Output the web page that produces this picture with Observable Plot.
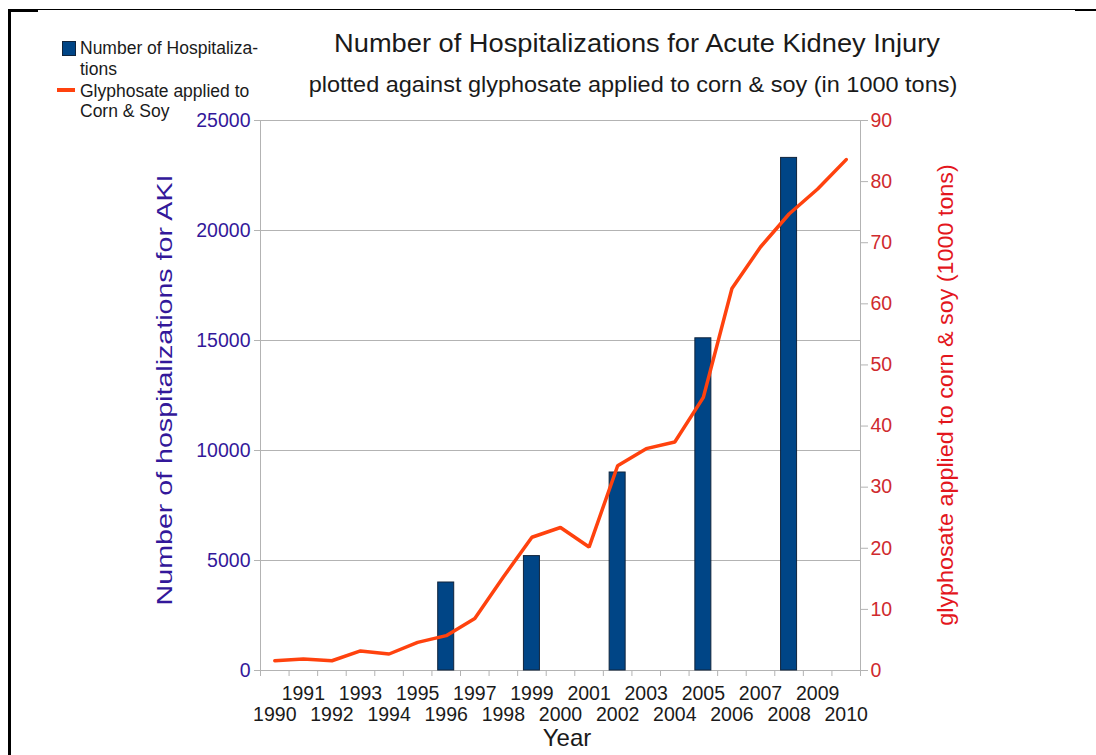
<!DOCTYPE html>
<html>
<head>
<meta charset="utf-8">
<script src="https://cdn.jsdelivr.net/npm/d3@7"></script>
<script src="https://cdn.jsdelivr.net/npm/@observablehq/plot@0.6"></script>
<style>
  html, body { margin: 0; padding: 0; background: #fff; }
  #wrap { position: relative; width: 1096px; height: 755px; overflow: hidden; font-family: "Liberation Sans", Arial, sans-serif; }
  #wrap svg { position: absolute; left: 0; top: 0; }
  .t { position: absolute; white-space: nowrap; color: #1a1a1a; line-height: 1.15; }
  .b { position: absolute; background: #000; }
</style>
</head>
<body>
<div id="wrap"></div>
<script>
// ---- data ----
const years = [1990, 1991, 1992, 1993, 1994, 1995, 1996, 1997, 1998, 1999, 2000,
               2001, 2002, 2003, 2004, 2005, 2006, 2007, 2008, 2009, 2010];
const glyphosate = [1.6, 1.9, 1.6, 3.2, 2.7, 4.6, 5.7, 8.5, 15.3, 21.8, 23.4,
                    20.2, 33.5, 36.3, 37.4, 44.7, 62.5, 69.3, 74.7, 78.8, 83.6];
const hospYears = [1996, 1999, 2002, 2005, 2008];
const hospitalizations = [4000, 5200, 9000, 15100, 23300];
const leftTicks = [0, 5000, 10000, 15000, 20000, 25000];
const rightTicks = [0, 10, 20, 30, 40, 50, 60, 70, 80, 90];

const titleText = "Number of Hospitalizations for Acute Kidney Injury";
const subtitleText = "plotted against glyphosate applied to corn & soy (in 1000 tons)";
const leftLabel = "Number of hospitalizations for AKI";
const rightLabel = "glyphosate applied to corn & soy (1000 tons)";
const xLabel = "Year";
const legendBars = ["Number of Hospitaliza-", "tions"];
const legendLine = ["Glyphosate applied to", "Corn & Soy"];

// ---- derived tables ----
const leftMax = 25000, rightMax = 90;
const toLeft = v => v * leftMax / rightMax;
const lineData = years.map((y, i) => ({year: y, value: toLeft(glyphosate[i])}));
const barData = hospYears.map((y, i) => ({year: y, value: hospitalizations[i]}));
const boundaries = years.map(y => y - 0.5).concat([years[years.length - 1] + 0.5]);
const oddYears = years.filter(y => y % 2 === 1);
const evenYears = years.filter(y => y % 2 === 0);
const halfBar = 0.28;

const grid = "#b3b3b3";
const leftColor = "#33189a";
const rightTickColor = "#cf2a2e";
const rightTitleColor = "#e3161d";
const fontSize = 19.5;

const chart = Plot.plot({
  width: 1096,
  height: 755,
  marginLeft: 260,
  marginRight: 236,
  marginTop: 120,
  marginBottom: 85,
  style: {fontFamily: "'Liberation Sans', Arial, sans-serif", background: "transparent", overflow: "visible"},
  x: {type: "linear", domain: [years[0] - 0.5, years[years.length - 1] + 0.5]},
  y: {type: "linear", domain: [0, leftMax]},
  marks: [
    Plot.gridY(leftTicks, {stroke: grid, strokeOpacity: 1, strokeWidth: 1}),
    Plot.frame({stroke: grid, strokeWidth: 1}),
    Plot.rectY(barData, {x1: d => d.year - halfBar, x2: d => d.year + halfBar, y1: 0, y2: "value",
      fill: "#004586", stroke: "#10243c", strokeWidth: 1}),
    Plot.line(lineData, {x: "year", y: "value", stroke: "#ff420e", strokeWidth: 3.5, strokeLinejoin: "miter"}),
    Plot.axisY({anchor: "left", ticks: leftTicks, tickSize: 6, tickPadding: 4, stroke: grid,
      fill: leftColor, fontSize, label: null, tickFormat: d => String(d)}),
    Plot.axisY({anchor: "right", ticks: rightTicks.map(toLeft), tickSize: 7, tickPadding: 3, stroke: grid,
      fill: rightTickColor, fontSize, label: null, tickFormat: d => String(Math.round(d * rightMax / leftMax))}),
    Plot.axisX({ticks: boundaries, tickSize: 6, stroke: grid, tickFormat: () => "", label: null}),
    Plot.axisX({ticks: oddYears, tickSize: 0, tickPadding: 16, fill: "#1a1a1a", fontSize, label: null,
      tickFormat: d => String(d)}),
    Plot.axisX({ticks: evenYears, tickSize: 0, tickPadding: 37, fill: "#1a1a1a", fontSize, label: null,
      tickFormat: d => String(d)})
  ]
});

const wrap = document.getElementById("wrap");
wrap.appendChild(chart);

function addText(txt, css) {
  const d = document.createElement("div");
  d.className = "t";
  d.textContent = txt;
  Object.assign(d.style, css);
  wrap.appendChild(d);
  return d;
}
function addBox(css, cls) {
  const d = document.createElement("div");
  d.className = cls || "b";
  Object.assign(d.style, css);
  wrap.appendChild(d);
  return d;
}

// border lines of the original page
addBox({left: "8px", top: "9px", width: "1088px", height: "1px"});
addBox({left: "8px", top: "9px", width: "30px", height: "2.5px"});
addBox({left: "1075px", top: "9px", width: "21px", height: "2px"});
addBox({left: "8px", top: "9px", width: "2.5px", height: "746px"});

// titles (centered on a point, slightly widened like the original rendering)
addText(titleText, {left: "637px", top: "43px", fontSize: "25px",
  transform: "translate(-50%, -50%) scaleX(1.09)"});
addText(subtitleText, {left: "633px", top: "85px", fontSize: "22px",
  transform: "translate(-50%, -50%) scaleX(1.067)"});

// axis titles
addText(xLabel, {left: "567px", top: "738px", fontSize: "24px", lineHeight: "1",
  transform: "translate(-50%, -50%)"});
addText(leftLabel, {left: "165px", top: "390px", fontSize: "22px", color: leftColor,
  transform: "translate(-50%, -50%) rotate(-90deg) scaleX(1.3)"});
addText(rightLabel, {left: "946px", top: "395px", fontSize: "22px", color: rightTitleColor,
  transform: "translate(-50%, -50%) rotate(-90deg) scaleX(1.06)"});

// legend
addBox({left: "62px", top: "41px", width: "12px", height: "13px", background: "#004586", border: "1px solid #10243c"});
addText(legendBars[0], {left: "80px", top: "38px", fontSize: "17.5px"});
addText(legendBars[1], {left: "80px", top: "59px", fontSize: "17.5px"});
addBox({left: "57px", top: "88px", width: "18px", height: "4px", background: "#ff420e"});
addText(legendLine[0], {left: "80px", top: "81px", fontSize: "17.5px"});
addText(legendLine[1], {left: "80px", top: "101px", fontSize: "17.5px"});
</script>
</body>
</html>
